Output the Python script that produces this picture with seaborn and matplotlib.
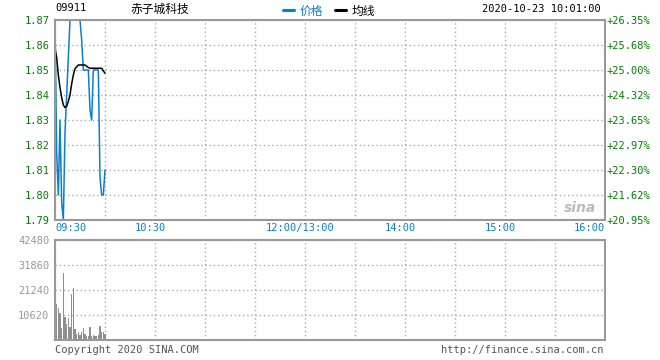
import numpy as np
import pandas as pd
import seaborn as sns
from matplotlib import pyplot as plt
from matplotlib import transforms

# minute 0 = 09:30
minutes = list(range(31))
price = [1.870, 1.817, 1.800, 1.830, 1.797, 1.790, 1.825, 1.840, 1.855, 1.870,
         1.870, 1.870, 1.870, 1.870, 1.870, 1.870, 1.862, 1.850, 1.850, 1.850,
         1.850, 1.834, 1.830, 1.850, 1.850, 1.850, 1.850, 1.807, 1.800, 1.800,
         1.810]
avg_price = [1.8587, 1.855, 1.848, 1.843, 1.839, 1.836, 1.835, 1.8355, 1.8375, 1.840,
             1.8445, 1.848, 1.8505, 1.8513, 1.852, 1.852, 1.852, 1.852, 1.852, 1.8515,
             1.851, 1.8507, 1.8507, 1.8507, 1.8507, 1.8507, 1.8507, 1.8507, 1.8507, 1.8497,
             1.8487]
vol_minutes = list(range(1, 31))
volume = [15400, 13800, 11400, 4900, 28500, 9800, 7000, 9200, 5400, 19500,
          22300, 4500, 2600, 3600, 2000, 3300, 4900, 2700, 1600, 1600,
          5600, 1600, 2000, 1700, 1600, 2000, 6100, 3200, 3600, 2600]

prev_close = 1.48
price_ticks = [1.79, 1.80, 1.81, 1.82, 1.83, 1.84, 1.85, 1.86, 1.87]
vol_ticks = [10620, 21240, 31860, 42480]
time_ticks = [0, 60, 150, 210, 270, 330]
time_labels = ['09:30', '10:30', '12:00/13:00', '14:00', '15:00', '16:00']

code = '09911'
name = '赤子城科技'
stamp = '2020-10-23 10:01:00'

BLUE = '#0a7fd1'
GREEN = '#008000'
GREY = '#999999'
GRID = '#aaaaaa'

sns.set_style('white')
plt.rcParams['font.family'] = ['DejaVu Sans Mono', 'Noto Sans CJK SC']
CJK = ['Noto Sans CJK SC', 'DejaVu Sans']

df = pd.DataFrame({'minute': minutes, 'price': price, 'avg': avg_price})

fig = plt.figure(figsize=(6.6, 3.6), dpi=100)
ax = fig.add_axes([55/660, 1-220/360, 550/660, 200/360])
axv = fig.add_axes([55/660, 1-340/360, 550/660, 100/360])

sns.lineplot(data=df, x='minute', y='price', ax=ax, color=BLUE, lw=1.1, label='价格')
sns.lineplot(data=df, x='minute', y='avg', ax=ax, color='black', lw=1.1, label='均线')
axv.bar(vol_minutes, volume, width=0.75, color='#8f8f8f', linewidth=0)

dot = (0, (1, 2))
for a in (ax, axv):
    a.set_xlim(0, 330)
    a.set_xticks(range(0, 331, 30))
    for s in a.spines.values():
        s.set_color(GREY)
        s.set_linewidth(1.5)
    a.grid(True, color=GRID, linestyle=dot, linewidth=1)
    a.tick_params(length=0)
    a.set_xlabel('')
    a.set_ylabel('')

ax.set_ylim(1.79, 1.87)
ax.set_yticks(price_ticks)
ax.set_yticklabels([f'{v:.2f}' for v in price_ticks], color=GREEN, fontsize=7.5)
ax.tick_params(axis='y', pad=4)
ax.set_xticklabels([time_labels[time_ticks.index(t)] if t in time_ticks else ''
                    for t in range(0, 331, 30)], color=BLUE, fontsize=7.5)
ax.tick_params(axis='x', pad=2)
shift = transforms.ScaledTranslation(-5/100, 0, fig.dpi_scale_trans)
labels = ax.get_xticklabels()
for i, lab in enumerate(labels):
    if lab.get_text() == time_labels[0]:
        lab.set_ha('left')
    elif lab.get_text() == time_labels[-1]:
        lab.set_ha('right')
    else:
        lab.set_transform(lab.get_transform() + shift)
ax.legend_.remove()

axr = ax.twinx()
axr.set_ylim(ax.get_ylim())
axr.set_yticks(price_ticks)
axr.set_yticklabels([f'+{(v/prev_close-1)*100:.2f}%' for v in price_ticks],
                    color=GREEN, fontsize=7.5)
axr.tick_params(length=0, pad=1)
for s in axr.spines.values():
    s.set_visible(False)

axv.set_ylim(0, 42480)
axv.set_yticks(vol_ticks)
axv.set_yticklabels([str(v) for v in vol_ticks], color=GREY, fontsize=7.5)
axv.tick_params(axis='y', pad=4)
axv.set_xticklabels([])

ax.text(0.955, 0.06, 'sina', transform=ax.transAxes, fontsize=10, style='italic',
        weight='bold', color='#bbbbbb', family='DejaVu Sans', ha='center', va='center')

fig.text(55/660, 1-8/360, code, fontsize=7.5, color='black', ha='left', va='center')
fig.text(160/660, 1-9/360, name, fontsize=8.5, color='black', ha='center', va='center',
         family=CJK)
fig.text(601/660, 1-9/360, stamp, fontsize=7.5, color='black', ha='right', va='center')
handles, lbls = ax.get_legend_handles_labels()
leg = fig.legend(handles, lbls, loc='center', bbox_to_anchor=(329/660, 1-11/360), ncol=2,
                 frameon=False, handlelength=0.95, handletextpad=0.45, columnspacing=1.0,
                 prop={'family': CJK, 'size': 8.5}, labelcolor='linecolor')
for h in leg.legend_handles:
    h.set_linewidth(2.2)

fig.text(55/660, 1-350/360, 'Copyright 2020 SINA.COM', fontsize=7.5, color='#555555',
         ha='left', va='center')
fig.text(604/660, 1-350/360, 'http://finance.sina.com.cn', fontsize=7.5, color='#555555',
         ha='right', va='center')

fig.savefig('out.png', dpi=100, facecolor='white')
